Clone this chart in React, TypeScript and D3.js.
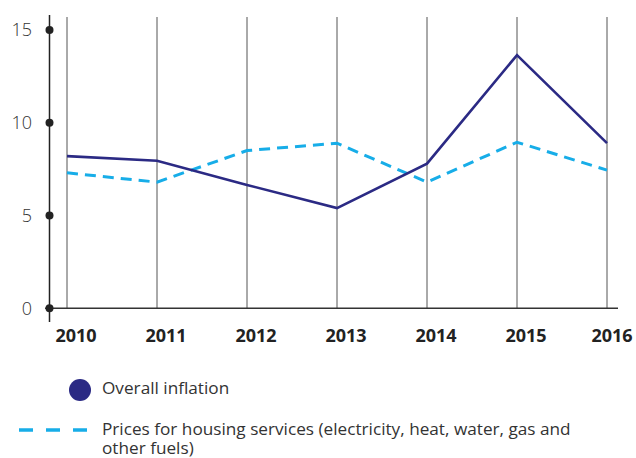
import React from "react";
import { scaleLinear, scalePoint, line } from "d3";

const years = ["2010", "2011", "2012", "2013", "2014", "2015", "2016"];
const overall = [8.2, 7.95, 6.65, 5.4, 7.8, 13.65, 8.9];
const housing = [7.3, 6.8, 8.5, 8.9, 6.8, 8.95, 7.45];
const yTicks = [0, 5, 10, 15];

const width = 636;
const height = 458;

export default function App() {
  const x = scalePoint<string>().domain(years).range([67, 607]);
  const y = scaleLinear().domain([0, 15]).range([308.3, 30]);

  const lineGen = line<number>()
    .x((d, i) => x(years[i]) as number)
    .y((d) => y(d));

  const font = "'Open Sans', 'DejaVu Sans', sans-serif";

  return (
    <svg
      width={width}
      height={height}
      style={{ position: "absolute", left: 0, top: 0, background: "#fff" }}
      fontFamily={font}
    >
      {/* vertical gridlines */}
      {years.map((yr) => (
        <line
          key={yr}
          x1={x(yr)}
          x2={x(yr)}
          y1={17}
          y2={y(0)}
          stroke="#555"
          strokeWidth={1}
        />
      ))}
      {/* x axis */}
      <line x1={45} x2={618} y1={y(0)} y2={y(0)} stroke="#333" strokeWidth={1.5} />
      {/* y axis */}
      <line x1={49.5} x2={49.5} y1={15} y2={322} stroke="#222" strokeWidth={1.5} />
      {yTicks.map((t) => (
        <g key={t}>
          <circle cx={49.5} cy={y(t)} r={4} fill="#222" />
          <text
            x={32}
            y={y(t)}
            dy="0.36em"
            textAnchor="end"
            fontSize={18}
            fontWeight={300}
            fill="#333"
          >
            {t}
          </text>
        </g>
      ))}
      {years.map((yr, i) => (
        <text
          key={"l" + yr}
          x={(x(yr) as number) + (i === years.length - 1 ? 5 : 9)}
          y={342}
          textAnchor="middle"
          fontSize={18}
          fontWeight={700}
          fill="#222"
        >
          {yr}
        </text>
      ))}
      {/* series */}
      <path
        d={lineGen(housing) || ""}
        fill="none"
        stroke="#17ade8"
        strokeWidth={3}
        strokeDasharray="11 7"
      />
      <path
        d={lineGen(overall) || ""}
        fill="none"
        stroke="#2b2a84"
        strokeWidth={2.6}
        strokeLinejoin="miter"
      />
      {/* legend */}
      <circle cx={80} cy={390} r={11} fill="#2b2a84" />
      <text x={102} y={394} fontSize={17.2} fill="#333">
        Overall inflation
      </text>
      <line
        x1={19}
        x2={87}
        y1={430}
        y2={430}
        stroke="#17ade8"
        strokeWidth={3.5}
        strokeDasharray="14 13"
      />
      <text x={102} y={435} fontSize={17.2} fill="#333">
        Prices for housing services (electricity, heat, water, gas and
      </text>
      <text x={102} y={454} fontSize={17.2} fill="#333">
        other fuels)
      </text>
    </svg>
  );
}
